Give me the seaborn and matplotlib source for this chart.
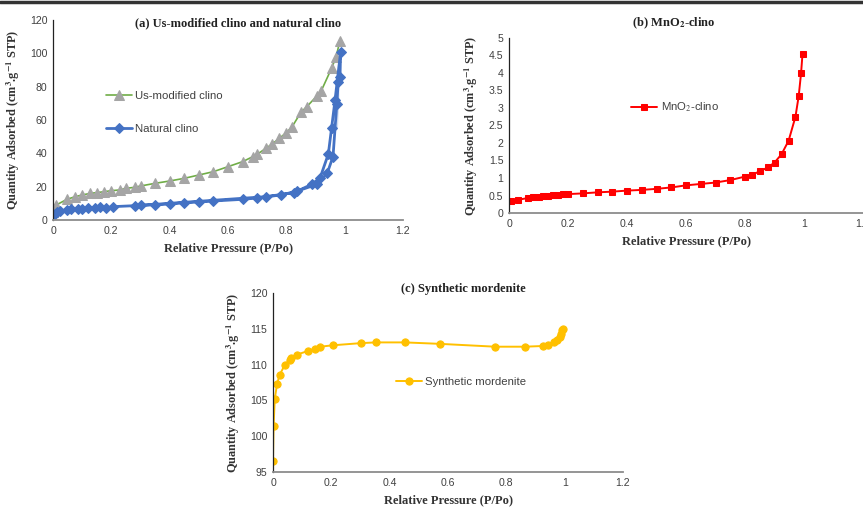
import matplotlib
matplotlib.use("Agg")
import matplotlib.pyplot as plt
import seaborn as sns
import pandas as pd
from matplotlib.lines import Line2D

sns.set_theme(style="white")
plt.rcParams['font.family'] = ['Liberation Sans', 'DejaVu Sans']
plt.rcParams['mathtext.fontset'] = 'stix'

# ---- data: panel (a) ----
us_p = [0.0, 0.011, 0.048, 0.076, 0.10, 0.128, 0.15, 0.176, 0.20, 0.228, 0.25, 0.28, 0.30,
        0.35, 0.40, 0.45, 0.50, 0.55, 0.60, 0.65, 0.685, 0.70, 0.73, 0.75, 0.776, 0.80, 0.82,
        0.85, 0.87, 0.905, 0.92, 0.955, 0.97, 0.984]
us_v = [5.0, 9.0, 12.4, 14.0, 15.0, 16.0, 16.4, 17.0, 17.6, 18.0, 19.0, 19.6, 20.4,
        22.0, 23.4, 25.0, 27.0, 29.0, 32.0, 35.0, 38.0, 39.4, 43.0, 45.4, 49.0, 52.4, 56.0,
        64.6, 68.0, 74.4, 77.6, 91.0, 97.6, 107.6]

nat_p = [0.006, 0.014, 0.023, 0.048, 0.06, 0.085, 0.10, 0.12, 0.145, 0.16, 0.18, 0.205, 0.28,
         0.35, 0.40, 0.45, 0.50, 0.55, 0.65, 0.70, 0.78, 0.835, 0.905, 0.94, 0.96, 0.973,
         0.978, 0.984, 0.986,
         0.978, 0.973, 0.967, 0.955, 0.944, 0.916, 0.887, 0.826, 0.73, 0.30]
nat_v = [3.6, 4.8, 5.6, 6.0, 6.4, 6.6, 6.6, 7.0, 7.4, 7.6, 7.2, 8.0, 8.6,
         9.2, 9.6, 10.4, 10.8, 11.4, 12.4, 13.2, 15.0, 17.2, 21.4, 28.0, 38.0, 55.0,
         72.4, 85.6, 100.6,
         93.6, 84.0, 72.0, 55.0, 39.6, 25.4, 21.4, 16.4, 14.0, 8.8]

# ---- data: panel (b) ----
mn_p = [0.007, 0.032, 0.066, 0.08, 0.10, 0.116, 0.133, 0.15, 0.167, 0.184, 0.20, 0.25, 0.30,
        0.35, 0.40, 0.45, 0.50, 0.55, 0.60, 0.65, 0.70, 0.75, 0.80, 0.823, 0.85, 0.877, 0.90,
        0.924, 0.948, 0.971, 0.982, 0.99, 0.995]
mn_v = [0.33, 0.38, 0.43, 0.45, 0.47, 0.48, 0.49, 0.50, 0.52, 0.53, 0.54, 0.56, 0.59,
        0.61, 0.64, 0.66, 0.69, 0.73, 0.79, 0.83, 0.87, 0.94, 1.04, 1.09, 1.19, 1.30, 1.44,
        1.68, 2.07, 2.75, 3.34, 3.99, 4.55]

# ---- data: panel (c) ----
mor_p = [0.0, 0.002, 0.006, 0.014, 0.023, 0.04, 0.057, 0.063, 0.082, 0.12, 0.143, 0.162, 0.206,
         0.302, 0.352, 0.452, 0.571, 0.762, 0.863, 0.926, 0.943, 0.963, 0.975, 0.983, 0.989,
         0.992, 0.994]
mor_v = [96.6, 101.4, 105.2, 107.3, 108.6, 109.9, 110.7, 110.9, 111.4, 111.9, 112.2, 112.5, 112.7,
         113.0, 113.1, 113.1, 112.9, 112.5, 112.5, 112.6, 112.8, 113.2, 113.5, 113.9, 114.3,
         114.8, 115.0]

x_ticks = [0, 0.2, 0.4, 0.6, 0.8, 1.0, 1.2]
x_labels = ["0", "0.2", "0.4", "0.6", "0.8", "1", "1.2"]
a_yticks = [0, 20, 40, 60, 80, 100, 120]
b_yticks = [0, 0.5, 1, 1.5, 2, 2.5, 3, 3.5, 4, 4.5, 5]
b_ylabels = ["0", "0.5", "1", "1.5", "2", "2.5", "3", "3.5", "4", "4.5", "5"]
c_yticks = [95, 100, 105, 110, 115, 120]

W, H = 863, 511
fig = plt.figure(figsize=(W / 100, H / 100), dpi=100)

def px_axes(l, t, r, b):
    return fig.add_axes([l / W, 1 - b / H, (r - l) / W, (b - t) / H])

ax_a = px_axes(53, 20, 403, 220)
ax_b = px_axes(509, 38, 863, 213)
ax_c = px_axes(273, 293, 623, 472)

ylab = r"Quantity Adsorbed (cm$^{\mathbf{3}}$.g$^{\mathbf{-1}}$ STP)"
serif = ['Liberation Serif', 'DejaVu Serif']

def style(ax, yt, ylabels, ylim):
    ax.set_xlim(0, 1.2)
    ax.set_ylim(*ylim)
    ax.set_xticks(x_ticks)
    ax.set_xticklabels(x_labels)
    ax.set_yticks(yt)
    ax.set_yticklabels(ylabels)
    ax.tick_params(axis='both', length=0, labelsize=7.6, labelcolor='#404040', pad=4)
    for s in ['top', 'right']:
        ax.spines[s].set_visible(False)
    ax.spines['left'].set_color('#222222')
    ax.spines['left'].set_linewidth(0.9)
    ax.spines['bottom'].set_color('#8c8c8c')
    ax.spines['bottom'].set_linewidth(1.3)
    ax.set_xlabel("Relative Pressure (P/Po)", family=serif, fontweight='bold', fontsize=9,
                  color='#333333', labelpad=5)
    ax.set_ylabel(ylab, family=serif, fontweight='bold', fontsize=8.8, color='#333333', labelpad=6)
    ax.grid(False)

# panel (a)
df_us = pd.DataFrame({"p": us_p, "v": us_v})
df_nat = pd.DataFrame({"p": nat_p, "v": nat_v})
sns.lineplot(data=df_us, x="p", y="v", ax=ax_a, sort=False, color='#70AD47', linewidth=1.2,
             marker='^', markersize=6.5, markerfacecolor='#A5A5A5', markeredgecolor='#A5A5A5',
             label="Us-modified clino")
sns.lineplot(data=df_nat, x="p", y="v", ax=ax_a, sort=False, color='#4472C4', linewidth=2.0,
             marker='D', markersize=5.2, markerfacecolor='#4472C4', markeredgecolor='#4472C4',
             label="Natural clino")
style(ax_a, a_yticks, [str(t) for t in a_yticks], (0, 120))
ax_a.text(0.53, 0.985, "(a) Us-modified clino and natural clino", transform=ax_a.transAxes,
          ha='center', va='center', family=serif, fontweight='bold', fontsize=9, color='#222222')
ax_a.legend(loc='upper left', bbox_to_anchor=(0.15, 0.645), frameon=False, fontsize=8.2,
            labelspacing=2.0, handlelength=2.3, handletextpad=0.3, borderpad=0, borderaxespad=0,
            labelcolor='#404040')

# panel (b)
df_mn = pd.DataFrame({"p": mn_p, "v": mn_v})
sns.lineplot(data=df_mn, x="p", y="v", ax=ax_b, sort=False, color='#FF0000', linewidth=1.4,
             marker='s', markersize=5, markerfacecolor='#FF0000', markeredgecolor='#FF0000',
             label=r"MnO$_2$-clino")
style(ax_b, b_yticks, b_ylabels, (0, 5))
ax_b.text(0.465, 1.086, r"(b) MnO$_\mathbf{2}$-clino", transform=ax_b.transAxes,
          ha='center', va='center', family=serif, fontweight='bold', fontsize=9, color='#222222')
ax_b.legend(loc='upper left', bbox_to_anchor=(0.345, 0.64), frameon=False, fontsize=8.2,
            handlelength=2.3, handletextpad=0.3, borderpad=0, borderaxespad=0,
            labelcolor='#404040')

# panel (c)
df_mor = pd.DataFrame({"p": mor_p, "v": mor_v})
sns.lineplot(data=df_mor, x="p", y="v", ax=ax_c, sort=False, color='#FFC000', linewidth=1.4,
             marker='o', markersize=5.2, markerfacecolor='#FFC000', markeredgecolor='#FFC000',
             label="Synthetic mordenite")
style(ax_c, c_yticks, [str(t) for t in c_yticks], (95, 120))
ax_c.text(0.545, 1.02, "(c) Synthetic mordenite", transform=ax_c.transAxes,
          ha='center', va='center', family=serif, fontweight='bold', fontsize=9, color='#222222')
ax_c.legend(loc='upper left', bbox_to_anchor=(0.35, 0.53), frameon=False, fontsize=8.2,
            handlelength=2.3, handletextpad=0.3, borderpad=0, borderaxespad=0,
            labelcolor='#404040')

# top rule
fig.add_artist(Line2D([0, 1], [1 - 2 / H, 1 - 2 / H], transform=fig.transFigure,
                      color='#333333', linewidth=2.5))

fig.savefig("out.png", dpi=100)
